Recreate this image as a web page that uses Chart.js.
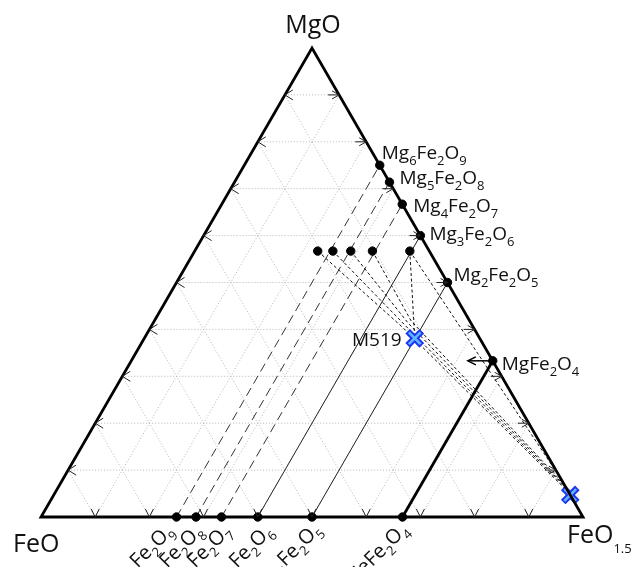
<!DOCTYPE html>
<html>
<head>
<meta charset="utf-8">
<script src="https://cdn.jsdelivr.net/npm/chart.js@4.4.0/dist/chart.umd.min.js"></script>
<style>
  html, body { margin: 0; padding: 0; background: #fff; }
  #wrap { width: 633px; height: 567px; }
</style>
</head>
<body>
<div id="wrap"><canvas id="ternary" width="633" height="567"></canvas></div>
<script>
// compositions are fractions: mgo = MgO, fe15 = FeO1.5, FeO is the remainder
const gridSteps = [0.1, 0.2, 0.3, 0.4, 0.5, 0.6, 0.7, 0.8, 0.9];

// Mg_nFe2O(n+3) on the MgO - FeO1.5 side
const mgNames = ["Mg_6Fe_2O_9", "Mg_5Fe_2O_8", "Mg_4Fe_2O_7", "Mg_3Fe_2O_6", "Mg_2Fe_2O_5", "MgFe_2O_4"];
const mgMgO = [0.75, 0.714, 0.667, 0.6, 0.5, 0.333];

// Fe_nFe2O(n+3) on the FeO - FeO1.5 side
const feNames = ["Fe_6Fe_2O_9", "Fe_5Fe_2O_8", "Fe_4Fe_2O_7", "Fe_3Fe_2O_6", "Fe_2Fe_2O_5", "FeFe_2O_4"];
const feFe15 = [0.25, 0.286, 0.333, 0.4, 0.5, 0.667];
const joinKind = ["long", "long", "long", "thin", "thin", "thick"];

// row of intermediate compositions
const midMgO = [0.567, 0.567, 0.567, 0.567, 0.567];
const midFe15 = [0.227, 0.255, 0.288, 0.328, 0.397];

// mixing lines pass close to M519 and end near the FeO1.5-rich end member
const passMgO = [0.405, 0.409, 0.414, 0.418];
const passFe15 = [0.464, 0.467, 0.470, 0.474];
const endMgO = [0.052, 0.058, 0.064, 0.070, 0.080];

const m519 = { mgo: 0.381, fe15: 0.499 };
const endMember = { mgo: 0.047, fe15: 0.953 };
const arrowTip = { mgo: 0.333, fe15: 0.621 };

function pt(mgo, fe15) { return { x: fe15 + mgo / 2, y: mgo }; }

const FONT = '"Open Sans", "DejaVu Sans", sans-serif';
// label nudges in pixels
const mgLabelOff = [[2, -6], [10, 2], [11, 8], [9, 4], [6, -2], [9, 9]];
const feLabelOff = [[-2, 15], [8, 15], [10.5, 15], [16, 15], [10, 13.5], [6.5, 13.5]];

const datasets = [];
const lineStyles = {
    long: { borderColor: "#333", borderWidth: 1, borderDash: [9, 5] },
    thin: { borderColor: "#222", borderWidth: 1, borderDash: [] },
    thick: { borderColor: "#000", borderWidth: 2.8, borderDash: [] }
};
feFe15.forEach((b, i) => {
    datasets.push(Object.assign({
        data: [pt(0, b), pt(mgMgO[i], 1 - mgMgO[i])],
        showLine: true, pointRadius: 0, order: 5
    }, lineStyles[joinKind[i]]));
});

const shortDash = { borderColor: "#111", borderWidth: 1, borderDash: [3, 2.5], showLine: true, pointRadius: 0, order: 4 };
passMgO.forEach((t, i) => {
    datasets.push(Object.assign({
        data: [pt(midMgO[i], midFe15[i]), pt(t, passFe15[i]), pt(endMgO[i], 1 - endMgO[i])]
    }, shortDash));
});
datasets.push(Object.assign({ data: [pt(midMgO[4], midFe15[4]), pt(m519.mgo, m519.fe15)] }, shortDash));
datasets.push(Object.assign({ data: [pt(midMgO[4], midFe15[4]), pt(endMgO[4], 1 - endMgO[4])] }, shortDash));

// dots
const dotPts = [];
mgMgO.forEach(t => dotPts.push(pt(t, 1 - t)));
feFe15.forEach(b => dotPts.push(pt(0, b)));
midMgO.forEach((t, i) => dotPts.push(pt(t, midFe15[i])));
datasets.push({ data: dotPts, pointRadius: 4.2, pointBackgroundColor: "#000", pointBorderColor: "#000", showLine: false, order: 3 });

// blue crosses
const crossPts = [pt(m519.mgo, m519.fe15), pt(endMember.mgo, endMember.fe15)];
datasets.push({ data: crossPts, pointStyle: "crossRot", pointRadius: 10, pointBorderWidth: 6.5, pointBorderColor: "#1d35f2", showLine: false, order: 2 });
datasets.push({ data: crossPts, pointStyle: "crossRot", pointRadius: 8.3, pointBorderWidth: 2.6, pointBorderColor: "#5fb6ff", showLine: false, order: 1 });

function drawChem(ctx, s, x, y, size, subSize, subOff, align) {
    const parts = s.match(/_[0-9.]+|[^_]+/g);
    const big = size + "px " + FONT, small = subSize + "px " + FONT;
    let w = 0;
    parts.forEach(p => { ctx.font = p[0] === "_" ? small : big; w += ctx.measureText(p.replace("_", "")).width; });
    let cx = align === "right" ? x - w : (align === "center" ? x - w / 2 : x);
    ctx.textAlign = "left";
    ctx.textBaseline = "alphabetic";
    parts.forEach(p => {
        const sub = p[0] === "_";
        const txt = p.replace("_", "");
        ctx.font = sub ? small : big;
        ctx.fillText(txt, cx, y + (sub ? subOff : 0));
        cx += ctx.measureText(txt).width;
    });
}

const ternaryDecor = {
    id: "ternaryDecor",
    beforeDatasetsDraw(chart) {
        const ctx = chart.ctx, xs = chart.scales.x, ys = chart.scales.y;
        const P = (t, b) => ({ x: xs.getPixelForValue(b + t / 2), y: ys.getPixelForValue(t) });
        ctx.save();
        ctx.strokeStyle = "#b5b5b5";
        ctx.lineWidth = 1;
        ctx.setLineDash([1, 2]);
        gridSteps.forEach(v => {
            const segs = [
                [P(v, 0), P(v, 1 - v)],           // constant MgO
                [P(0, v), P(1 - v, v)],           // constant FeO1.5
                [P(0, 1 - v), P(1 - v, 0)]        // constant FeO
            ];
            segs.forEach(([a, c]) => { ctx.beginPath(); ctx.moveTo(a.x, a.y); ctx.lineTo(c.x, c.y); ctx.stroke(); });
        });
        ctx.restore();
    },
    afterDatasetsDraw(chart) {
        const ctx = chart.ctx, xs = chart.scales.x, ys = chart.scales.y;
        const P = (t, b) => ({ x: xs.getPixelForValue(b + t / 2), y: ys.getPixelForValue(t) });
        ctx.save();
        ctx.setLineDash([]);
        // frame
        const A = P(1, 0), L = P(0, 0), R = P(0, 1);
        ctx.strokeStyle = "#000";
        ctx.lineWidth = 2.8;
        ctx.lineJoin = "miter";
        ctx.beginPath();
        ctx.moveTo(L.x, L.y); ctx.lineTo(R.x, R.y); ctx.lineTo(A.x, A.y); ctx.closePath();
        ctx.stroke();

        // tick arrows
        ctx.strokeStyle = "#222";
        ctx.lineWidth = 1;
        const stroke = pts => { ctx.beginPath(); ctx.moveTo(pts[0][0], pts[0][1]); pts.slice(1).forEach(p => ctx.lineTo(p[0], p[1])); ctx.stroke(); };
        gridSteps.forEach(v => {
            const l = P(v, 0);
            stroke([[l.x + 8, l.y - 5], [l.x, l.y], [l.x + 8, l.y + 5]]);
            const r = P(v, 1 - v);
            stroke([[r.x - 11, r.y], [r.x, r.y]]);
            stroke([[r.x - 7, r.y - 4], [r.x, r.y], [r.x - 7, r.y + 4]]);
            const b = P(0, v);
            stroke([[b.x - 4, b.y - 8], [b.x, b.y], [b.x + 4, b.y - 8]]);
        });

        // arrow from MgFe2O4
        const s0 = P(mgMgO[5], 1 - mgMgO[5]), s1 = P(arrowTip.mgo, arrowTip.fe15);
        ctx.strokeStyle = "#000";
        ctx.lineWidth = 1.5;
        stroke([[s0.x, s0.y], [s1.x, s1.y]]);
        stroke([[s1.x + 8, s1.y - 4], [s1.x, s1.y], [s1.x + 8, s1.y + 4]]);

        // labels
        ctx.fillStyle = "#111";
        drawChem(ctx, "MgO", A.x + 1, 33, 25, 15, 8, "center");
        drawChem(ctx, "FeO", 13, 552, 25, 15, 8, "left");
        drawChem(ctx, "FeO_1.5", 567, 543, 25, 13, 10, "left");

        mgNames.forEach((name, i) => {
            const p = P(mgMgO[i], 1 - mgMgO[i]);
            drawChem(ctx, name, p.x + mgLabelOff[i][0], p.y + mgLabelOff[i][1], 19, 13, 6, "left");
        });
        const m = P(m519.mgo, m519.fe15);
        drawChem(ctx, "M519", m.x - 13, m.y + 8, 19, 13, 6, "right");

        feNames.forEach((name, i) => {
            const p = P(0, feFe15[i]);
            ctx.save();
            ctx.translate(p.x + feLabelOff[i][0], p.y + feLabelOff[i][1]);
            ctx.rotate(-Math.PI / 4);
            drawChem(ctx, name, 0, 0, 20, 13, 6, "right");
            ctx.restore();
        });
        ctx.restore();
    }
};

new Chart(document.getElementById("ternary").getContext("2d"), {
    type: "scatter",
    data: { datasets: datasets },
    options: {
        responsive: false,
        animation: false,
        layout: { padding: 0, autoPadding: false },
        plugins: { legend: { display: false }, tooltip: { enabled: false } },
        scales: {
            x: { type: "linear", min: -41 / 542, max: 592 / 542, display: false },
            y: { type: "linear", min: -50 / 469, max: 517 / 469, display: false }
        }
    },
    plugins: [ternaryDecor]
});
</script>
</body>
</html>
